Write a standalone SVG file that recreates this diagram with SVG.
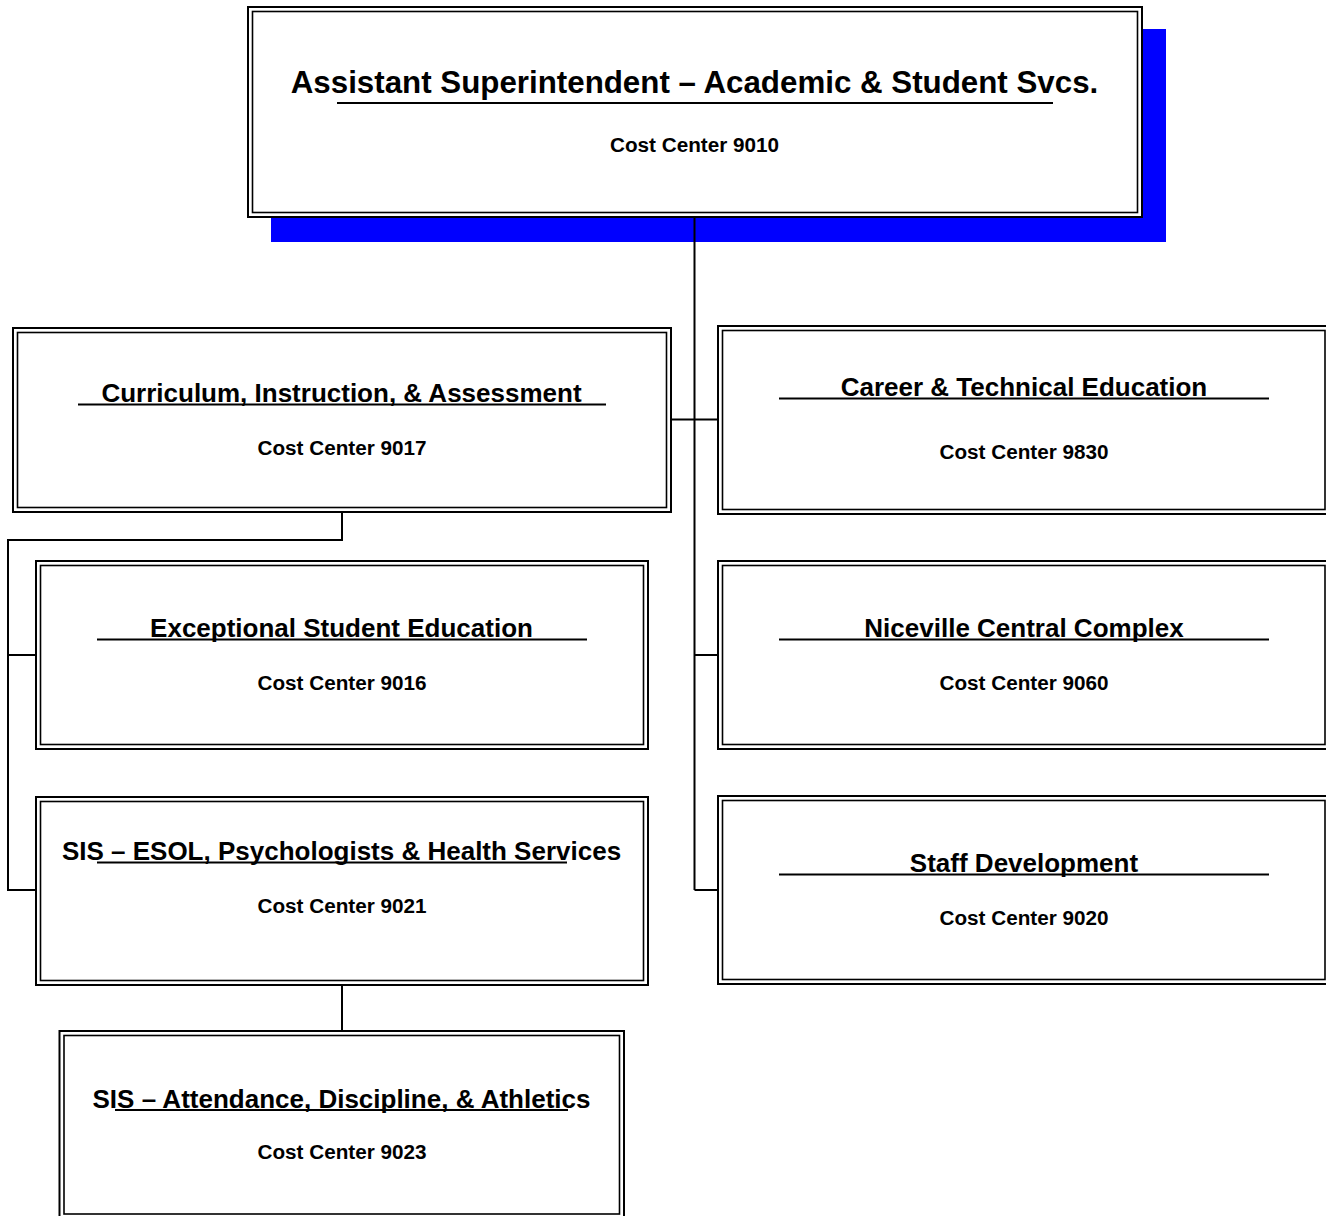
<svg xmlns="http://www.w3.org/2000/svg" width="1326" height="1216" viewBox="0 0 1326 1216">
<style>
  .outer { fill: #ffffff; stroke: #000000; stroke-width: 2; }
  .inner { fill: none; stroke: #000000; stroke-width: 1.6; }
  .title { font-family: "Liberation Sans", Arial, sans-serif; font-weight: bold; font-size: 26px; fill: #000000; text-anchor: middle; }
  .big { font-size: 31.3px; }
  .cc { font-family: "Liberation Sans", Arial, sans-serif; font-weight: bold; font-size: 20.7px; fill: #000000; text-anchor: middle; }
  .ul { stroke: #000000; stroke-width: 2; fill: none; }
  .conn { stroke: #000000; stroke-width: 2; fill: none; }
</style>
<rect x="0" y="0" width="1326" height="1216" fill="#ffffff"/>

<g id="node-asst-supt">
  <rect x="271" y="29" width="895" height="213" fill="#0000ff"/>
  <rect class="outer" x="248" y="7" width="894" height="210"/>
  <rect class="inner" x="252.5" y="11.5" width="885" height="201"/>
  <text class="title big" x="694.5" y="93">Assistant Superintendent – Academic &amp; Student Svcs.</text>
  <line class="ul" x1="337" y1="103" x2="1053" y2="103"/>
  <text class="cc" x="694.5" y="152">Cost Center 9010</text>
</g>

<g id="node-curriculum">
  <rect class="outer" x="13" y="328" width="658" height="184"/>
  <rect class="inner" x="17.5" y="332.5" width="649" height="175"/>
  <text class="title" x="341.5" y="402">Curriculum, Instruction, &amp; Assessment</text>
  <line class="ul" x1="78" y1="404.5" x2="606" y2="404.5"/>
  <text class="cc" x="342" y="455">Cost Center 9017</text>
</g>

<g id="node-career">
  <rect class="outer" x="718" y="326" width="612" height="188"/>
  <rect class="inner" x="722.5" y="330.5" width="602.5" height="179"/>
  <text class="title" x="1024" y="396">Career &amp; Technical Education</text>
  <line class="ul" x1="779" y1="398.5" x2="1269" y2="398.5"/>
  <text class="cc" x="1024" y="459">Cost Center 9830</text>
</g>

<g id="node-exceptional">
  <rect class="outer" x="36" y="561" width="612" height="188"/>
  <rect class="inner" x="40.5" y="565.5" width="603" height="179"/>
  <text class="title" x="341.5" y="637">Exceptional Student Education</text>
  <line class="ul" x1="97" y1="639.5" x2="587" y2="639.5"/>
  <text class="cc" x="342" y="690">Cost Center 9016</text>
</g>

<g id="node-niceville">
  <rect class="outer" x="718" y="561" width="612" height="188"/>
  <rect class="inner" x="722.5" y="565.5" width="602.5" height="179"/>
  <text class="title" x="1024" y="637">Niceville Central Complex</text>
  <line class="ul" x1="779" y1="639.5" x2="1269" y2="639.5"/>
  <text class="cc" x="1024" y="690">Cost Center 9060</text>
</g>

<g id="node-sis-esol">
  <rect class="outer" x="36" y="797" width="612" height="188"/>
  <rect class="inner" x="40.5" y="801.5" width="603" height="179"/>
  <text class="title" x="341.5" y="860">SIS – ESOL, Psychologists &amp; Health Services</text>
  <line class="ul" x1="97" y1="862.5" x2="567" y2="862.5"/>
  <text class="cc" x="342" y="913">Cost Center 9021</text>
</g>

<g id="node-staff-dev">
  <rect class="outer" x="718" y="796" width="612" height="188"/>
  <rect class="inner" x="722.5" y="800.5" width="602.5" height="179"/>
  <text class="title" x="1024" y="872">Staff Development</text>
  <line class="ul" x1="779" y1="874.5" x2="1269" y2="874.5"/>
  <text class="cc" x="1024" y="925">Cost Center 9020</text>
</g>

<g id="node-sis-attendance">
  <rect class="outer" x="59.5" y="1031" width="564.5" height="190"/>
  <rect class="inner" x="64" y="1035.5" width="555.5" height="178.5"/>
  <text class="title" x="341.5" y="1108">SIS – Attendance, Discipline, &amp; Athletics</text>
  <line class="ul" x1="115" y1="1110" x2="568" y2="1110"/>
  <text class="cc" x="342" y="1159">Cost Center 9023</text>
</g>

<g id="connectors">
  <path class="conn" d="M694.5 217 V890"/>
  <path class="conn" d="M671 419.5 H718"/>
  <path class="conn" d="M694.5 655 H718"/>
  <path class="conn" d="M694.5 890 H718"/>
  <path class="conn" d="M342 512 V540 H8 V890 H36"/>
  <path class="conn" d="M8 655 H36"/>
  <path class="conn" d="M342 985 V1031"/>
</g>
</svg>
